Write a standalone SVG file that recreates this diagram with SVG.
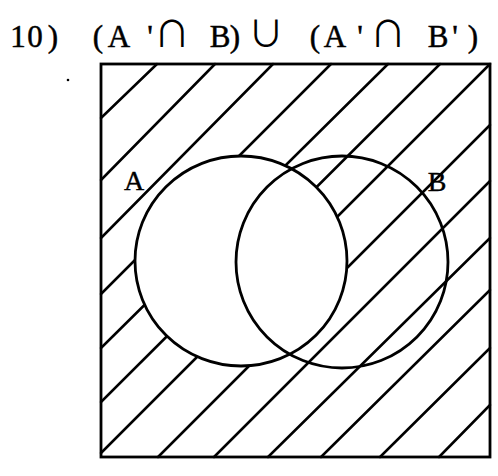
<svg xmlns="http://www.w3.org/2000/svg" width="498" height="476" viewBox="0 0 498 476">
  <style>
    .hatch { stroke: #000; stroke-width: 2.5; stroke-linecap: round; fill: none; }
    .outline { stroke: #000; stroke-width: 2.8; fill: none; }
    .title { font-family: "Liberation Serif", "DejaVu Serif", serif; font-size: 31px; fill: #000; stroke: #000; stroke-width: 0.5; }
    .sym { font-family: "Noto Sans CJK JP", "DejaVu Sans", sans-serif; font-size: 36px; fill: #000; text-anchor: middle; }
    .label { font-family: "Liberation Serif", "DejaVu Serif", serif; font-size: 28px; fill: #000; text-anchor: middle; stroke: #000; stroke-width: 0.4; }
  </style>
  <rect x="0" y="0" width="498" height="476" fill="#fff"/>

  <g id="title">
    <text class="title" x="10.2 27.2 47.8" y="47">10)</text>
    <text class="title" x="92.8 107.8 147.2" y="47">(A'</text>
    <text class="sym" x="172" y="47">∩</text>
    <text class="title" x="209.7 229.8" y="47">B)</text>
    <text class="sym" x="266" y="47">∪</text>
    <text class="title" x="309.8 323.8 357.2" y="47">(A'</text>
    <text class="sym" x="388" y="47">∩</text>
    <text class="title" x="427.7 452.2 467.8" y="47">B')</text>
  </g>

  <circle cx="68" cy="80" r="1.3" fill="#000"/>

  <g id="hatching">
    <line class="hatch" x1="157" y1="64" x2="101" y2="118"/>
    <line class="hatch" x1="215" y1="64" x2="101" y2="180"/>
    <line class="hatch" x1="273" y1="64" x2="101" y2="238"/>
    <line class="hatch" x1="331" y1="64" x2="101" y2="294"/>
    <line class="hatch" x1="388" y1="64" x2="101" y2="348"/>
    <line class="hatch" x1="440" y1="64" x2="101" y2="402"/>
    <line class="hatch" x1="490" y1="64" x2="101" y2="453"/>
    <line class="hatch" x1="490" y1="125" x2="158" y2="457"/>
    <line class="hatch" x1="490" y1="181" x2="214" y2="457"/>
    <line class="hatch" x1="490" y1="238" x2="268" y2="457"/>
    <line class="hatch" x1="490" y1="290" x2="321" y2="457"/>
    <line class="hatch" x1="490" y1="348" x2="380" y2="457"/>
    <line class="hatch" x1="490" y1="405" x2="439" y2="457"/>
  </g>

  <g id="setA">
    <ellipse cx="241" cy="261" rx="106" ry="105" fill="#fff" stroke="none"/>
  </g>

  <g id="setB">
    <ellipse class="outline" cx="342" cy="262" rx="106" ry="106"/>
    <text class="label" x="437" y="191">B</text>
  </g>

  <g id="setA-outline">
    <ellipse class="outline" cx="241" cy="261" rx="106" ry="105"/>
    <text class="label" x="134" y="190">A</text>
  </g>

  <g id="universe">
    <rect class="outline" x="101" y="64" width="389" height="393" stroke-width="3"/>
  </g>
</svg>
